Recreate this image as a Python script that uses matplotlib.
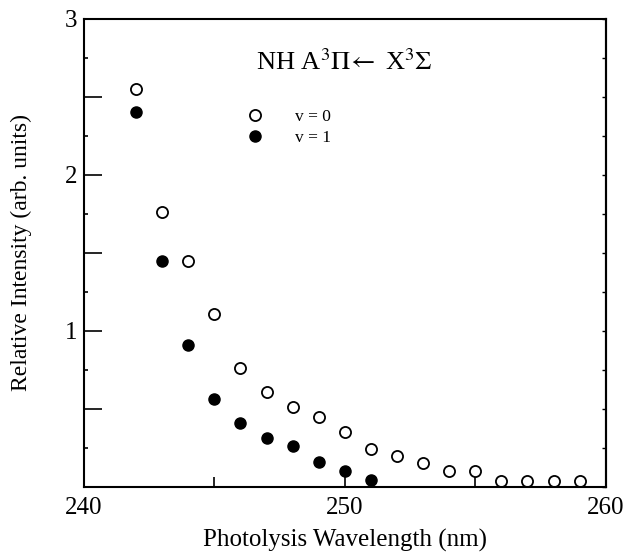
import matplotlib
matplotlib.use('Agg')
import matplotlib.pyplot as plt
from matplotlib.ticker import MultipleLocator, FixedLocator, FuncFormatter, NullFormatter

plt.rcParams['font.family'] = ['Liberation Serif', 'DejaVu Serif']
plt.rcParams['mathtext.fontset'] = 'stix'

# NH A-X emission intensity vs photolysis wavelength
wl_v0 = [242, 243, 244, 245, 246, 247, 248, 249, 250, 251, 252, 253, 254, 255, 256, 257, 258, 259]
int_v0 = [2.55, 1.76, 1.45, 1.11, 0.76, 0.61, 0.51, 0.45, 0.35, 0.245, 0.20, 0.15, 0.10, 0.10, 0.04, 0.04, 0.04, 0.04]

wl_v1 = [242, 243, 244, 245, 246, 247, 248, 249, 250, 251]
int_v1 = [2.40, 1.45, 0.91, 0.56, 0.41, 0.31, 0.26, 0.16, 0.10, 0.045]

fig = plt.figure(figsize=(6.31, 5.52), dpi=100)
ax = fig.add_axes([0.133, 0.118, 0.827, 0.848])

ax.plot(wl_v0, int_v0, 'o', markersize=8, markerfacecolor='white',
        markeredgecolor='black', markeredgewidth=1.3, label='v = 0')
ax.plot(wl_v1, int_v1, 'o', markersize=8, color='black', label='v = 1')

ax.set_xlim(240, 260)
ax.set_ylim(0, 3)
ax.xaxis.set_major_locator(FixedLocator([240, 250, 260]))
ax.xaxis.set_minor_locator(MultipleLocator(5))
ax.yaxis.set_major_locator(MultipleLocator(0.5))
ax.yaxis.set_major_formatter(FuncFormatter(lambda v, p: f'{v:.0f}' if v > 0 and abs(v - round(v)) < 1e-6 else ''))
ax.yaxis.set_minor_locator(MultipleLocator(0.25))

ax.tick_params(which='both', direction='in', top=False, right=False, labelsize=18, width=1.2)
ax.tick_params(axis='y', which='major', length=13, pad=4.5)
ax.tick_params(axis='y', which='minor', length=3)
ax.tick_params(axis='x', which='major', length=10, pad=7)
ax.tick_params(axis='x', which='minor', length=7)
for s in ax.spines.values():
    s.set_linewidth(1.5)

# small inward marks on the right frame
sec = ax.secondary_yaxis('right')
sec.yaxis.set_major_locator(MultipleLocator(0.25))
sec.yaxis.set_major_formatter(NullFormatter())
sec.tick_params(direction='in', length=3, width=1.0)
sec.spines['right'].set_linewidth(1.5)

ax.set_xlabel('Photolysis Wavelength (nm)', fontsize=18)
ax.set_ylabel('Relative Intensity (arb. units)', fontsize=17)
ax.xaxis.set_label_coords(0.5, -0.09)
ax.yaxis.set_label_coords(-0.1, 0.5)

ax.text(0.33, 0.907, r'NH A$^3\Pi\!\leftarrow$ X$^3\Sigma$', transform=ax.transAxes,
        fontsize=19, va='center', ha='left')
ax.legend(loc='upper left', bbox_to_anchor=(0.312, 0.808), frameon=False, fontsize=12.5,
          borderaxespad=0, borderpad=0, handlelength=1.0, handletextpad=1.8,
          labelspacing=0.3, numpoints=1)

plt.savefig('out.png', dpi=100)
